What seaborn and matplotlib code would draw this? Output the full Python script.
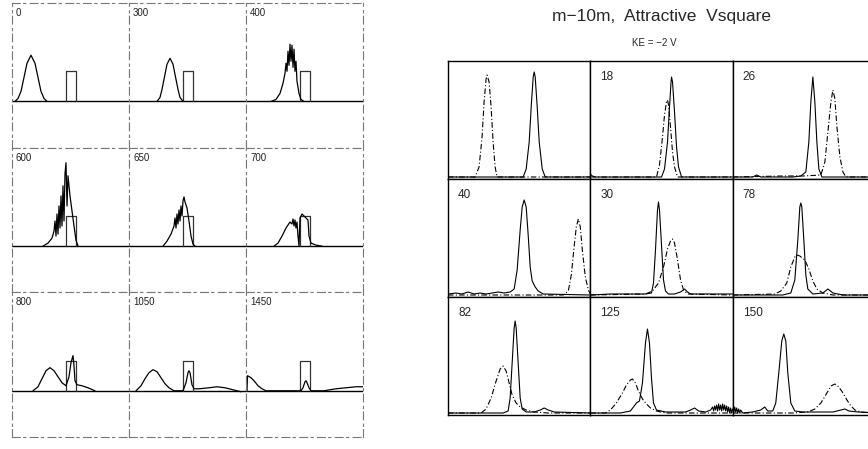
import matplotlib
matplotlib.use("Agg")
import matplotlib.pyplot as plt
import seaborn as sns

# === Data ===
# left block: wave packet hitting a square barrier (x in px across a panel, y in px above baseline)
left_labels = ["0", "300", "400", "600", "650", "700", "800", "1050", "1450"]
barrier_x = [54, 54, 64, 64]
barrier_y = [0, 30, 30, 0]

pkt_0 = [(3, 0), (6, 3), (9, 10), (12, 24), (15, 38), (19, 46), (23, 38), (26, 24),
         (29, 10), (32, 3), (35, 0)]
pkt_300 = [(28, 0), (31, 4), (33, 12), (35, 22), (38, 37), (41, 43), (44, 37), (47, 22),
           (49, 12), (51, 4), (54, 0)]
pkt_400 = [(25, 0), (30, 2), (34, 8), (37, 18), (39, 28), (40, 38), (41, 30), (42, 50),
           (43, 36), (44, 57), (45, 40), (46, 56), (47, 34), (48, 52), (49, 30), (50, 40),
           (51, 20), (53, 8), (55, 2), (58, 0)]
pkt_600 = [(31, 0), (36, 3), (40, 8), (42, 15), (43, 25), (44, 10), (45, 32), (46, 12),
           (47, 40), (48, 18), (49, 50), (50, 20), (51, 60), (52, 25), (53, 72), (54, 83),
           (55, 40), (56, 70), (58, 50), (60, 35), (62, 20), (64, 6), (66, 0)]
pkt_650 = [(34, 0), (38, 5), (42, 12), (45, 20), (46, 28), (47, 18), (48, 32), (49, 22),
           (50, 36), (51, 25), (52, 40), (53, 30), (54, 45), (55, 49), (56, 44), (58, 38),
           (60, 25), (62, 10), (64, 2), (66, 0)]
pkt_700 = [(28, 0), (32, 3), (36, 10), (40, 18), (44, 24), (46, 22), (47, 27), (48, 20),
           (49, 26), (50, 18), (51, 24), (52, 10), (53, 0), (54, 28), (56, 32), (58, 30),
           (60, 28), (62, 26), (63, 10), (65, 3), (70, 1), (76, 0)]
pkt_800 = [(21, 0), (26, 4), (30, 12), (34, 20), (38, 23), (42, 20), (46, 14), (50, 8),
           (54, 5), (57, 14), (59, 28), (61, 35), (62, 25), (63, 10), (65, 6), (70, 5),
           (76, 3), (83, 0)]
pkt_1050 = [(7, 0), (12, 5), (16, 12), (20, 18), (24, 21), (28, 19), (32, 13), (36, 7),
            (40, 3), (45, 0), (54, 0), (57, 8), (59, 18), (60, 20), (61, 18), (63, 6),
            (65, 2), (70, 2), (80, 3), (88, 4), (96, 3), (104, 1), (112, -1)]
pkt_1450 = [(1, 0), (1.5, 15), (5, 13), (8, 10), (12, 5), (16, 2), (20, 0), (55, 0), (57, 3),
            (59, 9), (60, 10), (61, 8), (63, 3), (65, 0), (78, 0), (90, 2), (100, 3),
            (110, 4), (117, 4)]
left_packets = [pkt_0, pkt_300, pkt_400, pkt_600, pkt_650, pkt_700, pkt_800, pkt_1050, pkt_1450]

# right block: solid and dash-dot peaks (x in px across a panel, y in px above baseline)
right_labels = ["", "18", "26", "40", "30", "78", "82", "125", "150"]

solid_1 = [(0, 0), (75, 0), (78, 8), (81, 35), (83, 70), (85, 100), (86, 105), (87, 100),
           (89, 70), (91, 35), (94, 8), (97, 0), (142, 0)]
dash_1 = [(0, 0), (27, 0), (31, 10), (34, 40), (36, 75), (38, 98), (39, 102), (41, 95),
          (43, 70), (45, 35), (47, 10), (49, 0), (142, 0)]
solid_18 = [(0, 3), (2, 1), (5, 0), (71, 0), (74, 8), (77, 35), (79, 70), (80.5, 95),
            (81, 100), (82, 95), (84, 65), (86, 30), (88, 10), (91, 0), (142, 0)]
dash_18 = [(0, 0), (66, 0), (69, 12), (72, 40), (74, 62), (76, 75), (77, 77), (78, 72),
           (80, 50), (82, 25), (84, 10), (87, 0), (142, 0)]
solid_26 = [(0, 0), (20, 0), (24, 2), (28, 0), (60, 0), (68, 1), (73, 5), (76, 35), (78, 75),
            (80, 100), (82, 75), (84, 35), (86, 8), (89, 0), (142, 0)]
dash_26 = [(0, 0), (50, 1), (70, 1), (88, 2), (92, 15), (95, 45), (98, 75), (100, 87),
           (102, 78), (104, 50), (107, 20), (110, 5), (113, 0), (142, 0)]
solid_40 = [(0, 1), (8, 2), (14, 1), (20, 3), (26, 1), (32, 2), (38, 1), (44, 2), (50, 3),
            (56, 2), (62, 3), (66, 6), (69, 25), (72, 65), (74, 88), (76, 95), (78, 88),
            (80, 60), (82, 28), (84, 14), (87, 8), (90, 4), (95, 1), (142, 0)]
dash_40 = [(0, 0), (115, 0), (120, 4), (123, 20), (126, 50), (128, 68), (130, 76), (132, 68),
           (134, 45), (137, 18), (140, 5), (142, 1)]
solid_30 = [(0, 0), (20, 1), (40, 1), (55, 1), (61, 2), (63, 12), (65, 45), (67, 85), (68, 93),
            (69, 85), (71, 50), (73, 15), (75, 4), (78, 1), (84, 1), (90, 3), (94, 6), (97, 3),
            (100, 1), (142, 1)]
dash_30 = [(0, 0), (55, 1), (62, 4), (68, 12), (73, 28), (77, 46), (80, 54), (82, 56), (84, 52),
           (87, 35), (90, 15), (93, 5), (97, 1), (142, 0)]
solid_78 = [(0, 0), (50, 0), (58, 2), (62, 15), (65, 55), (67, 88), (68, 92), (69, 88), (71, 55),
            (73, 20), (75, 6), (80, 1), (90, 2), (95, 6), (100, 2), (110, 0), (142, 0)]
dash_78 = [(0, 0), (42, 1), (48, 4), (54, 12), (58, 28), (62, 38), (64, 40), (67, 39), (72, 35),
           (76, 26), (80, 14), (84, 6), (90, 2), (100, 0), (142, 0)]
solid_82 = [(0, 0), (55, 0), (60, 2), (62, 15), (64, 50), (66, 85), (67, 92), (68, 85), (70, 50),
            (72, 15), (74, 4), (78, 1), (86, 1), (92, 3), (96, 5), (100, 3), (106, 1), (142, 0)]
dash_82 = [(0, 0), (33, 0), (38, 4), (43, 15), (48, 32), (52, 44), (55, 47), (58, 42), (61, 30),
           (64, 18), (68, 10), (72, 6), (78, 3), (86, 1), (100, 0), (142, 0)]
solid_125 = [(0, 0), (30, 0), (40, 2), (46, 10), (49, 12), (52, 30), (55, 70), (57, 84), (59, 70),
             (61, 35), (63, 10), (66, 3), (75, 1), (95, 1), (100, 3), (104, 5), (108, 2),
             (115, 1), (120, 3), (122, 6), (123, 2), (124, 7), (125, 3), (126, 8), (127, 2),
             (128, 9), (129, 3), (130, 8), (131, 2), (132, 9), (133, 3), (134, 8), (135, 2),
             (136, 7), (137, 1), (138, 6), (139, 0), (140, 5), (141, 0), (142, 4)]
dash_125 = [(0, 0), (15, 0), (20, 3), (26, 10), (32, 20), (36, 28), (40, 33), (42, 34), (45, 30),
            (48, 22), (52, 14), (56, 9), (60, 5), (66, 2), (75, 0), (142, 0)]
solid_150 = [(0, 5), (1, 0), (2, 6), (3, 1), (4, 5), (5, 0), (6, 4), (7, 0), (8, 3), (10, 0),
             (20, 1), (28, 3), (32, 6), (35, 2), (40, 2), (43, 10), (46, 40), (49, 72), (51, 79),
             (53, 72), (55, 40), (58, 10), (62, 2), (70, 1), (100, 1), (108, 3), (112, 4),
             (116, 2), (125, 1), (142, 0)]
dash_150 = [(0, 0), (60, 0), (75, 1), (82, 4), (88, 10), (94, 20), (98, 27), (102, 29),
            (106, 26), (110, 20), (114, 13), (118, 7), (122, 3), (128, 1), (142, 0)]
right_solid = [solid_1, solid_18, solid_26, solid_40, solid_30, solid_78, solid_82, solid_125, solid_150]
right_dash = [dash_1, dash_18, dash_26, dash_40, dash_30, dash_78, dash_82, dash_125, dash_150]

# === Setup ===
sns.set_theme(style="white")
plt.rcParams["font.family"] = ["Liberation Sans", "DejaVu Sans"]

W, H = 868, 449
fig = plt.figure(figsize=(W / 100, H / 100), dpi=100)


def draw(ax, pts, **kw):
    xs = [p[0] for p in pts]
    ys = [p[1] for p in pts]
    sns.lineplot(x=xs, y=ys, ax=ax, estimator=None, sort=False, **kw)


# === Left block ===
gl = fig.add_gridspec(3, 3, left=12 / W, right=363 / W, top=1 - 3 / H, bottom=1 - 437 / H,
                      wspace=0, hspace=0)
for i, (lab, pkt) in enumerate(zip(left_labels, left_packets)):
    ax = fig.add_subplot(gl[i // 3, i % 3])
    ax.axhline(0, color="black", lw=1.0)
    draw(ax, list(zip(barrier_x, barrier_y)), color="#333333", lw=0.9)
    draw(ax, pkt, color="black", lw=0.9)
    ax.set_xlim(0, 117)
    ax.set_ylim(-46, 98)
    ax.set_xticks([])
    ax.set_yticks([])
    ax.set_xlabel("")
    ax.set_ylabel("")
    for sp in ax.spines.values():
        sp.set_color("#777777")
        sp.set_linewidth(0.8)
        sp.set_linestyle((0, (7, 3, 2, 4)))
    ax.text(4 / 117, 1 - 5 / 145, lab, transform=ax.transAxes, ha="left", va="top",
            fontsize=7, color="#222222")

# === Right block ===
gr = fig.add_gridspec(3, 3, left=448 / W, right=875 / W, top=1 - 61 / H, bottom=1 - 415 / H,
                      wspace=0, hspace=0)
for i, lab in enumerate(right_labels):
    ax = fig.add_subplot(gr[i // 3, i % 3])
    draw(ax, right_solid[i], color="black", lw=0.8)
    draw(ax, right_dash[i], color="black", lw=0.8, linestyle=(0, (5, 2, 1, 2)))
    ax.set_xlim(0, 142)
    ax.set_ylim(-2, 116)
    ax.set_xticks([])
    ax.set_yticks([])
    ax.set_xlabel("")
    ax.set_ylabel("")
    for sp in ax.spines.values():
        sp.set_color("black")
        sp.set_linewidth(1.0)
    if lab:
        ax.text(10 / 142, 1 - 10 / 118, lab, transform=ax.transAxes, ha="left", va="top",
                fontsize=8.5)

fig.text(661 / W, 1 - 17 / H, "m\u221210m,  Attractive  Vsquare", ha="center", va="center",
         fontsize=12.5)
fig.text(654 / W, 1 - 43 / H, "KE = \u22122 V", ha="center", va="center", fontsize=7)

fig.savefig("out.png", dpi=100)
plt.close(fig)
